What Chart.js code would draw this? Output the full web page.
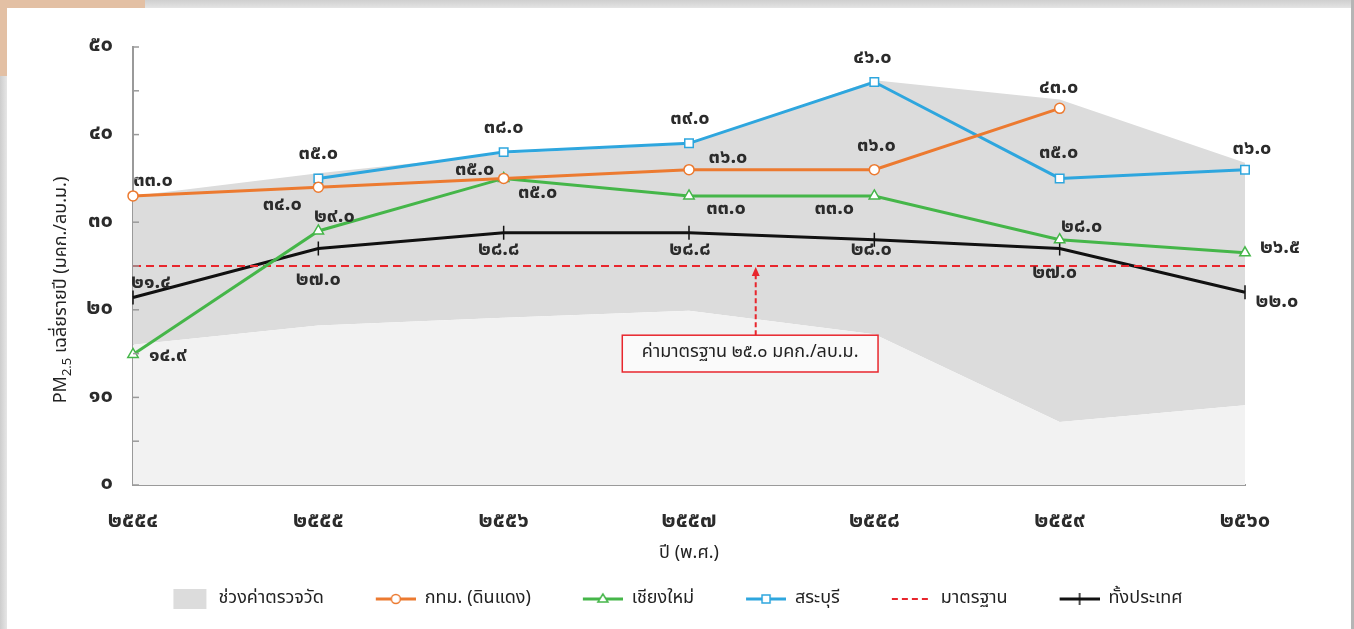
<!DOCTYPE html>
<html>
<head>
<meta charset="utf-8">
<script src="https://cdn.jsdelivr.net/npm/chart.js@4.4.1/dist/chart.umd.min.js"></script>
<style>
  html, body { margin: 0; padding: 0; background: #fff; }
  #wrap { position: relative; width: 1354px; height: 629px; overflow: hidden; background: #fff; }
  #pmChart { position: absolute; left: 0; top: 0; }
  .edge { position: absolute; z-index: 2; }
  .top { left: 0; top: 0; width: 1354px; height: 8px; background: linear-gradient(#cfcfcf, #e4e4e4); }
  .left { left: 0; top: 0; width: 7px; height: 629px; background: linear-gradient(to right, #cdcdcd, #e6e6e6); }
  .right { right: 0; top: 0; width: 3px; height: 629px; background: #b5b5b5; }
  .deco1 { left: 0; top: 0; width: 145px; height: 8px; background: #e3c0a4; }
  .deco2 { left: 0; top: 0; width: 7px; height: 76px; background: #e3c0a4; }
</style>
</head>
<body>
<div id="wrap">
  <canvas id="pmChart" width="1354" height="629"></canvas>
  <div class="edge top"></div>
  <div class="edge left"></div>
  <div class="edge right"></div>
  <div class="edge deco1"></div>
  <div class="edge deco2"></div>
</div>
<script>
// ข้อมูล PM2.5 เฉลี่ยรายปี
var years = ['2554', '2555', '2556', '2557', '2558', '2559', '2560'];
var rangeLow = [16.0, 18.2, 19.1, 19.9, 17.2, 7.2, 9.1];
var rangeHigh = [33.0, 35.6, 37.8, 38.9, 46.2, 44.0, 36.8];
var bangkok = [33.0, 34.0, 35.0, 36.0, 36.0, 43.0, null];
var chiangMai = [14.9, 29.0, 35.0, 33.0, 33.0, 28.0, 26.5];
var saraburi = [null, 35.0, 38.0, 39.0, 46.0, 35.0, 36.0];
var standard = [25, 25, 25, 25, 25, 25, 25];
var country = [21.4, 27.0, 28.8, 28.8, 28.0, 27.0, 22.0];
var yMax = 50;
var standardText = 'ค่ามาตรฐาน ๒๕.๐ มคก./ลบ.ม.';

var THAI_FONT = "'Noto Sans Thai', 'Noto Sans', sans-serif";

function toThai(s) {
    return String(s).replace(/[0-9]/g, function(d) { return '๐๑๒๓๔๕๖๗๘๙'[+d]; });
}

// ตำแหน่งป้ายตัวเลขเทียบกับจุด (dx, dy)
var posBangkok = [[20, -14], [-36, 19], [-29, -7], [39, -11], [2, -23], [-1, -19], null];
var posChiangMai = [[35, 2], [16, -13], [34, 16], [37, 14], [-40, 14], [22, -12], [35, -4]];
var posSaraburi = [null, [0, -23], [0, -23], [1, -23], [-2, -23], [-1, -24], [7, -20]];
var posCountry = [[18, -14], [0, 32], [-5, 18], [1, 18], [-3, 11], [-5, 25], [32, 11]];

// ไอคอนคำอธิบาย: ช่องว่างด้านซ้าย 27px แล้วตามด้วยสัญลักษณ์กว้าง 40px
var LEAD = 27;
function legendIcon(kind, color) {
    var c = document.createElement('canvas');
    c.width = LEAD + 40; c.height = 22;
    var g = c.getContext('2d');
    g.translate(LEAD, 0);
    if (kind === 'band') {
        g.fillStyle = color;
        g.fillRect(4, 1, 33, 20);
        return c;
    }
    g.strokeStyle = color;
    g.lineWidth = kind === 'dash' ? 2 : 3;
    if (kind === 'dash') g.setLineDash([6, 4]);
    g.beginPath(); g.moveTo(0, 11); g.lineTo(40, 11); g.stroke();
    g.setLineDash([]);
    g.lineWidth = 1.5;
    g.fillStyle = '#fff';
    if (kind === 'circle') {
        g.beginPath(); g.arc(20, 11, 4.5, 0, Math.PI * 2); g.fill(); g.stroke();
    } else if (kind === 'triangle') {
        g.beginPath(); g.moveTo(20, 6); g.lineTo(25, 14); g.lineTo(15, 14); g.closePath(); g.fill(); g.stroke();
    } else if (kind === 'rect') {
        g.fillRect(16, 7, 8, 8); g.strokeRect(16, 7, 8, 8);
    } else if (kind === 'cross') {
        g.beginPath(); g.moveTo(20, 5); g.lineTo(20, 17); g.stroke();
    }
    return c;
}

var dataLabels = {
    id: 'dataLabels',
    afterDatasetsDraw: function(chart) {
        var ctx = chart.ctx;
        ctx.save();
        ctx.font = 'bold 20px ' + THAI_FONT;
        ctx.fillStyle = '#2b2b2b';
        ctx.textAlign = 'center';
        ctx.textBaseline = 'middle';
        chart.data.datasets.forEach(function(ds, i) {
            if (!ds.labelPos) return;
            var meta = chart.getDatasetMeta(i);
            ds.data.forEach(function(v, j) {
                var off = ds.labelPos[j];
                if (v === null || !off) return;
                var pt = meta.data[j];
                ctx.fillText(toThai(v.toFixed(1)), pt.x + off[0], pt.y + off[1]);
            });
        });
        ctx.restore();
    }
};

var extras = {
    id: 'extras',
    afterDraw: function(chart) {
        var ctx = chart.ctx, x = chart.scales.x, y = chart.scales.y, area = chart.chartArea;
        ctx.save();
        // ขีดสเกลด้านใน
        ctx.strokeStyle = '#9a9a9a';
        ctx.lineWidth = 1.5;
        for (var v = 0; v <= yMax; v += 5) {
            var py = y.getPixelForValue(v);
            ctx.beginPath(); ctx.moveTo(area.left, py); ctx.lineTo(area.left + 6, py); ctx.stroke();
        }
        // กล่องค่ามาตรฐาน
        var ax = x.getPixelForValue(3.36);
        var lineY = y.getPixelForValue(standard[0]);
        var boxTop = y.getPixelForValue(17.1), boxBot = y.getPixelForValue(12.9);
        var bx = x.getPixelForValue(2.64), bw = x.getPixelForValue(4.02) - bx;
        ctx.strokeStyle = '#e8262d';
        ctx.lineWidth = 2;
        ctx.setLineDash([5, 3]);
        ctx.beginPath(); ctx.moveTo(ax, boxTop); ctx.lineTo(ax, lineY + 8); ctx.stroke();
        ctx.setLineDash([]);
        ctx.fillStyle = '#e8262d';
        ctx.beginPath(); ctx.moveTo(ax, lineY + 1); ctx.lineTo(ax - 4, lineY + 10); ctx.lineTo(ax + 4, lineY + 10); ctx.closePath(); ctx.fill();
        ctx.fillStyle = '#fafafa';
        ctx.fillRect(bx, boxTop, bw, boxBot - boxTop);
        ctx.lineWidth = 1.5;
        ctx.strokeRect(bx, boxTop, bw, boxBot - boxTop);
        ctx.fillStyle = '#222';
        ctx.font = '18px ' + THAI_FONT;
        ctx.textAlign = 'center';
        ctx.textBaseline = 'middle';
        ctx.fillText(standardText, bx + bw / 2, (boxTop + boxBot) / 2);
        // ชื่อแกน y พร้อมตัวห้อย
        ctx.translate(62, 290);
        ctx.rotate(-Math.PI / 2);
        var big = '18px ' + THAI_FONT, small = '13px ' + THAI_FONT;
        var rest = ' เฉลี่ยรายปี (มคก./ลบ.ม.)';
        ctx.font = big; var w1 = ctx.measureText('PM').width, w3 = ctx.measureText(rest).width;
        ctx.font = small; var w2 = ctx.measureText('2.5').width;
        var sx = -(w1 + w2 + w3) / 2;
        ctx.textAlign = 'left';
        ctx.textBaseline = 'middle';
        ctx.fillStyle = '#222';
        ctx.font = big; ctx.fillText('PM', sx, 0);
        ctx.font = small; ctx.fillText('2.5', sx + w1, 6);
        ctx.font = big; ctx.fillText(rest, sx + w1 + w2, 0);
        ctx.restore();
    }
};

var ctx = document.getElementById('pmChart').getContext('2d');
var pmChart = new Chart(ctx, {
    type: 'line',
    data: {
        labels: years,
        datasets: [{
            label: 'low',
            data: rangeLow,
            borderWidth: 0,
            pointRadius: 0,
            backgroundColor: '#f2f2f2',
            fill: 'origin'
        }, {
            label: 'ช่วงค่าตรวจวัด',
            data: rangeHigh,
            borderWidth: 0,
            pointRadius: 0,
            backgroundColor: '#dcdcdc',
            fill: '-1',
            icon: legendIcon('band', '#dcdcdc')
        }, {
            label: 'กทม. (ดินแดง)',
            data: bangkok,
            borderColor: '#ec7a30',
            backgroundColor: '#ffffff',
            borderWidth: 3,
            pointStyle: 'circle',
            pointRadius: 5,
            pointBorderWidth: 1.5,
            labelPos: posBangkok,
            icon: legendIcon('circle', '#ec7a30')
        }, {
            label: 'เชียงใหม่',
            data: chiangMai,
            borderColor: '#45b649',
            backgroundColor: '#ffffff',
            borderWidth: 3,
            pointStyle: 'triangle',
            pointRadius: 6,
            pointBorderWidth: 1.5,
            labelPos: posChiangMai,
            icon: legendIcon('triangle', '#45b649')
        }, {
            label: 'สระบุรี',
            data: saraburi,
            borderColor: '#2ea6de',
            backgroundColor: '#ffffff',
            borderWidth: 3,
            pointStyle: 'rect',
            pointRadius: 6,
            pointBorderWidth: 1.5,
            labelPos: posSaraburi,
            icon: legendIcon('rect', '#2ea6de')
        }, {
            label: 'มาตรฐาน',
            data: standard,
            borderColor: '#e8262d',
            borderWidth: 2,
            borderDash: [8, 5],
            pointRadius: 0,
            icon: legendIcon('dash', '#e8262d')
        }, {
            label: 'ทั้งประเทศ',
            data: country,
            borderColor: '#111111',
            borderWidth: 3,
            pointStyle: 'line',
            pointRotation: 90,
            pointRadius: 7,
            pointBorderWidth: 1.5,
            labelPos: posCountry,
            icon: legendIcon('cross', '#111111')
        }]
    },
    options: {
        responsive: false,
        animation: false,
        layout: { padding: { left: 80, right: 109, top: 47, bottom: 11 } },
        scales: {
            x: {
                offset: false,
                grid: { drawOnChartArea: false, drawTicks: false },
                border: { color: '#9a9a9a', width: 2 },
                ticks: {
                    padding: 24,
                    color: '#2b2b2b',
                    font: { family: THAI_FONT, size: 22, weight: 'bold' },
                    callback: function(v, i) { return toThai(years[i]); }
                },
                title: {
                    display: true,
                    text: 'ปี (พ.ศ.)',
                    color: '#222',
                    font: { family: THAI_FONT, size: 18 },
                    padding: { top: 6, bottom: 0 }
                },
                afterFit: function(s) { s.height = 80; }
            },
            y: {
                min: 0,
                max: yMax,
                grid: { drawOnChartArea: false, drawTicks: false },
                border: { color: '#9a9a9a', width: 2 },
                ticks: {
                    stepSize: 10,
                    padding: 20,
                    color: '#2b2b2b',
                    font: { family: THAI_FONT, size: 22, weight: 'bold' },
                    callback: function(v) { return toThai(v); }
                },
                afterFit: function(s) { s.width = 53; }
            }
        },
        plugins: {
            filler: { drawTime: 'beforeDatasetsDraw' },
            tooltip: { enabled: false },
            legend: {
                position: 'bottom',
                labels: {
                    usePointStyle: true,
                    pointStyleWidth: LEAD + 40,
                    padding: 25,
                    color: '#222',
                    font: { family: THAI_FONT, size: 18 },
                    generateLabels: function(chart) {
                        return chart.data.datasets.map(function(ds, i) {
                            return { text: ds.label, pointStyle: ds.icon, datasetIndex: i, fontColor: '#222', lineWidth: 0 };
                        }).filter(function(it) { return it.datasetIndex > 0; });
                    }
                }
            }
        }
    },
    plugins: [dataLabels, extras]
});
</script>
</body>
</html>
